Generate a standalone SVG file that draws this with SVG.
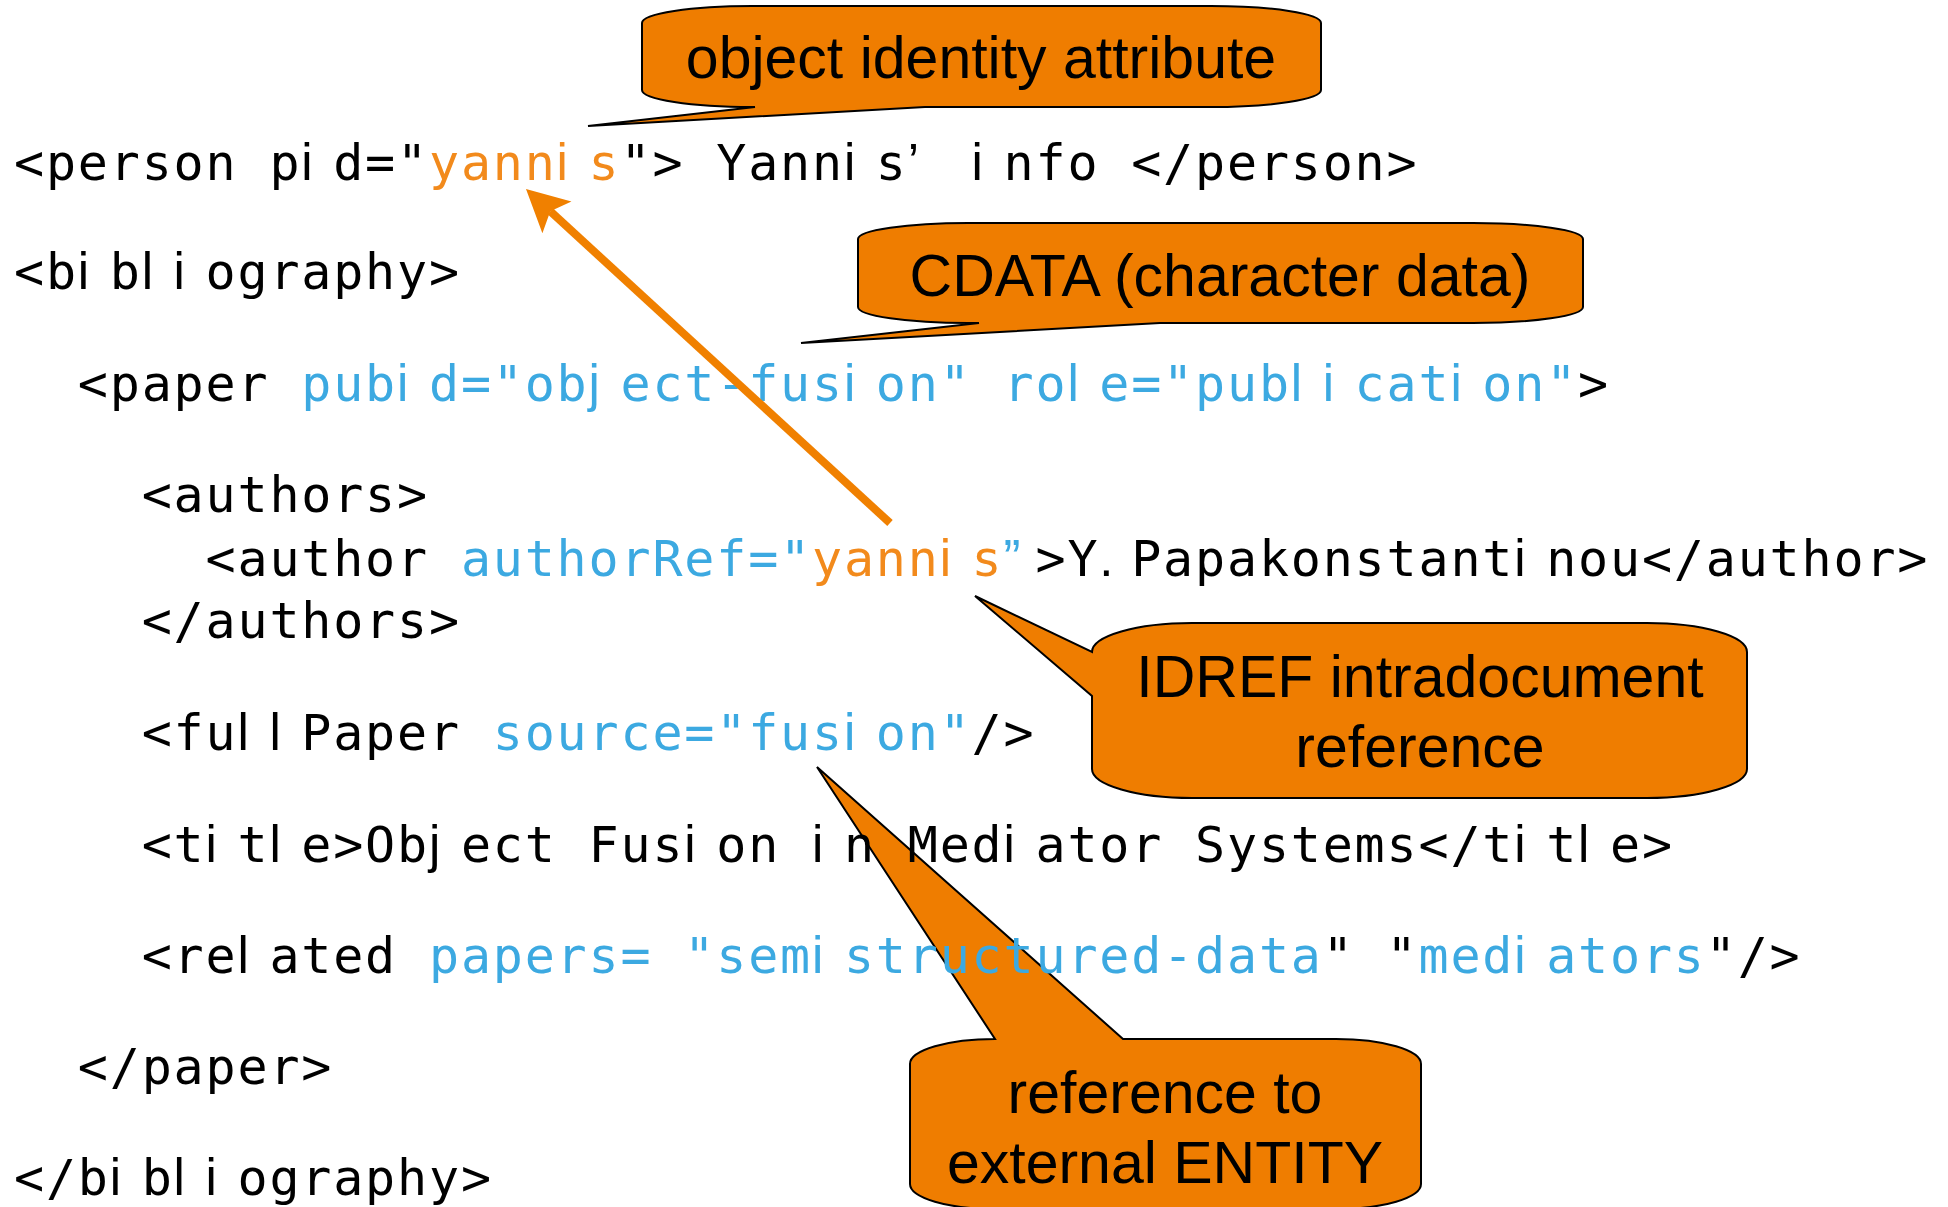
<svg xmlns="http://www.w3.org/2000/svg" width="1948" height="1207" viewBox="0 0 1948 1207">
  <style>
    .code { font-family: "DejaVu Sans Mono", monospace; font-size: 50px; fill: #000; }
    .code .n { font-family: "Liberation Sans", Arial, sans-serif; font-size: 51px; }
    .blu { fill: #3CA9E1; }
    .org { fill: #F28A1C; }
    .callout path { fill: #EF7D00; stroke: #000; stroke-width: 2; stroke-linejoin: miter; }
    .callout text { font-family: "Liberation Sans", Arial, sans-serif; font-size: 59px; fill: #000; text-anchor: middle; }
    .arrow { stroke: #F08000; stroke-width: 8; fill: none; }
  </style>
  <defs>
    <marker id="ah" markerUnits="userSpaceOnUse" viewBox="-43 -23 44 46" markerWidth="44" markerHeight="46" refX="-33" refY="0" orient="auto">
      <path d="M0,0 L-42,-21.5 L-33,0 L-42,21.5 Z" fill="#F08000"/>
    </marker>
  </defs>

  <rect width="1948" height="1207" fill="#fff"/>

  <!-- callout balloons -->
  <g id="callout-identity" class="callout">
    <path d="M 752 6 H 1211 A 110 17 0 0 1 1321 23 V 90 A 110 17 0 0 1 1211 107 H 925 L 588 126 L 755 107 H 752 A 110 17 0 0 1 642 90 V 23 A 110 17 0 0 1 752 6 Z"/>
    <text x="981" y="78">object identity attribute</text>
  </g>
  <g id="callout-cdata" class="callout">
    <path d="M 968 223 H 1473 A 110 16 0 0 1 1583 239 V 307 A 110 16 0 0 1 1473 323 H 1160 L 801 343 L 979 323 H 968 A 110 16 0 0 1 858 307 V 239 A 110 16 0 0 1 968 223 Z"/>
    <text x="1220" y="296">CDATA (character data)</text>
  </g>
  <g id="callout-idref" class="callout">
    <path d="M 1192 623 H 1647 A 100 29 0 0 1 1747 652 V 769 A 100 29 0 0 1 1647 798 H 1192 A 100 29 0 0 1 1092 769 V 696 L 975 596 L 1092 652 A 100 29 0 0 1 1192 623 Z"/>
    <text x="1420" y="697">IDREF intradocument</text>
    <text x="1420" y="767">reference</text>
  </g>
  <g id="callout-entity" class="callout">
    <path d="M 910 1064 A 85 25 0 0 1 995 1039 L 817 767 L 1123 1039 H 1336 A 85 25 0 0 1 1421 1064 V 1184 A 85 25 0 0 1 1336 1209 H 995 A 85 25 0 0 1 910 1184 Z"/>
    <text x="1165" y="1113">reference to</text>
    <text x="1165" y="1183">external ENTITY</text>
  </g>

  <!-- XML listing: every glyph sits in a fixed 31.92px cell; i, l, j and a few marks use a narrow face -->
  <g id="listing" class="code">
    <text y="180" x="14 45.9 77.8 109.8 141.7 173.6 205.5 237.4 269.4 301.3 333.2 365.1 397 429 460.9 492.8 524.7 556.6 588.6 620.5 652.4 684.3 716.2 748.2 780.1 812 843.9 875.8 907.8 939.7 971.6 1003.5 1035.4 1067.4 1099.3 1131.2 1163.1 1195 1227 1258.9 1290.8 1322.7 1354.6 1386.6">&lt;person p<tspan class="n">i</tspan>d=&quot;<tspan class="org">yann<tspan class="n">i</tspan>s</tspan>&quot;&gt; Yann<tspan class="n">i</tspan>s<tspan class="n">’</tspan> <tspan class="n">i</tspan>nfo &lt;/person&gt;</text>
    <text y="289" x="14 45.9 77.8 109.8 141.7 173.6 205.5 237.4 269.4 301.3 333.2 365.1 397 429">&lt;b<tspan class="n">i</tspan>b<tspan class="n">li</tspan>ography&gt;</text>
    <text y="401" x="77.8 109.8 141.7 173.6 205.5 237.4 269.4 301.3 333.2 365.1 397 429 460.9 492.8 524.7 556.6 588.6 620.5 652.4 684.3 716.2 748.2 780.1 812 843.9 875.8 907.8 939.7 971.6 1003.5 1035.4 1067.4 1099.3 1131.2 1163.1 1195 1227 1258.9 1290.8 1322.7 1354.6 1386.6 1418.5 1450.4 1482.3 1514.2 1546.2 1578.1">&lt;paper <tspan class="blu">pub<tspan class="n">i</tspan>d=&quot;ob<tspan class="n">j</tspan>ect-fus<tspan class="n">i</tspan>on&quot; ro<tspan class="n">l</tspan>e=&quot;pub<tspan class="n">li</tspan>cat<tspan class="n">i</tspan>on&quot;</tspan>&gt;</text>
    <text y="512" x="141.7 173.6 205.5 237.4 269.4 301.3 333.2 365.1 397">&lt;authors&gt;</text>
    <text y="576" x="205.5 237.4 269.4 301.3 333.2 365.1 397 429 460.9 492.8 524.7 556.6 588.6 620.5 652.4 684.3 716.2 748.2 780.1 812 843.9 875.8 907.8 939.7 971.6 1003.5 1035.4 1067.4 1099.3 1131.2 1163.1 1195 1227 1258.9 1290.8 1322.7 1354.6 1386.6 1418.5 1450.4 1482.3 1514.2 1546.2 1578.1 1610 1641.9 1673.8 1705.8 1737.7 1769.6 1801.5 1833.4 1865.4 1897.3">&lt;author <tspan class="blu">authorRef=&quot;</tspan><tspan class="org">yann<tspan class="n">i</tspan>s</tspan><tspan class="blu n">”</tspan>&gt;Y<tspan class="n">.</tspan>Papakonstant<tspan class="n">i</tspan>nou&lt;/author&gt;</text>
    <text y="638" x="141.7 173.6 205.5 237.4 269.4 301.3 333.2 365.1 397 429">&lt;/authors&gt;</text>
    <text y="750" x="141.7 173.6 205.5 237.4 269.4 301.3 333.2 365.1 397 429 460.9 492.8 524.7 556.6 588.6 620.5 652.4 684.3 716.2 748.2 780.1 812 843.9 875.8 907.8 939.7 971.6 1003.5">&lt;fu<tspan class="n">ll</tspan>Paper <tspan class="blu">source=&quot;fus<tspan class="n">i</tspan>on&quot;</tspan>/&gt;</text>
    <text y="862" x="141.7 173.6 205.5 237.4 269.4 301.3 333.2 365.1 397 429 460.9 492.8 524.7 556.6 588.6 620.5 652.4 684.3 716.2 748.2 780.1 812 843.9 875.8 907.8 939.7 971.6 1003.5 1035.4 1067.4 1099.3 1131.2 1163.1 1195 1227 1258.9 1290.8 1322.7 1354.6 1386.6 1418.5 1450.4 1482.3 1514.2 1546.2 1578.1 1610 1641.9">&lt;t<tspan class="n">i</tspan>t<tspan class="n">l</tspan>e&gt;Ob<tspan class="n">j</tspan>ect Fus<tspan class="n">i</tspan>on <tspan class="n">i</tspan>n Med<tspan class="n">i</tspan>ator Systems&lt;/t<tspan class="n">i</tspan>t<tspan class="n">l</tspan>e&gt;</text>
    <text y="973" x="141.7 173.6 205.5 237.4 269.4 301.3 333.2 365.1 397 429 460.9 492.8 524.7 556.6 588.6 620.5 652.4 684.3 716.2 748.2 780.1 812 843.9 875.8 907.8 939.7 971.6 1003.5 1035.4 1067.4 1099.3 1131.2 1163.1 1195 1227 1258.9 1290.8 1322.7 1354.6 1386.6 1418.5 1450.4 1482.3 1514.2 1546.2 1578.1 1610 1641.9 1673.8 1705.8 1737.7 1769.6">&lt;re<tspan class="n">l</tspan>ated <tspan class="blu">papers= &quot;sem<tspan class="n">i</tspan>structured-data</tspan>&quot; &quot;<tspan class="blu">med<tspan class="n">i</tspan>ators</tspan>&quot;/&gt;</text>
    <text y="1084" x="77.8 109.8 141.7 173.6 205.5 237.4 269.4 301.3">&lt;/paper&gt;</text>
    <text y="1195" x="14 45.9 77.8 109.8 141.7 173.6 205.5 237.4 269.4 301.3 333.2 365.1 397 429 460.9">&lt;/b<tspan class="n">i</tspan>b<tspan class="n">li</tspan>ography&gt;</text>
  </g>

  <!-- IDREF link back to the identity attribute -->
  <g id="connectors">
    <line class="arrow" x1="890" y1="523" x2="550.3" y2="211.3" marker-end="url(#ah)"/>
  </g>
</svg>
